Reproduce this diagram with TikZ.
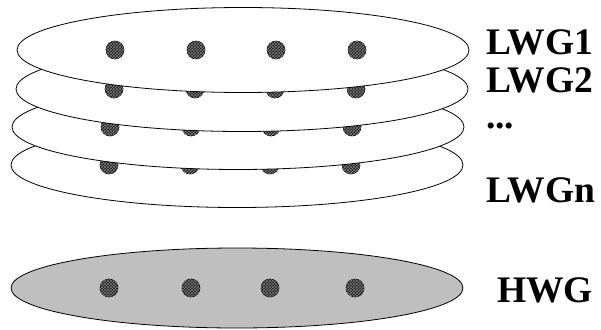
\documentclass[tikz,border=0pt]{standalone}
\usepackage{fontspec}
\setmainfont{Liberation Serif}
\usetikzlibrary{positioning,shapes.geometric,patterns}

\begin{document}
\begin{tikzpicture}[
                x=1pt, y=-1pt,
                layer/.style={
                    ellipse,
                    draw,
                    line width=0.8pt,
                    fill=white,
                    minimum width=452pt,
                    minimum height=85pt,
                    inner sep=0pt
                },
                heavy/.style={layer, fill=black!25, minimum height=80pt},
                member/.style={
                    circle,
                    draw=black,
                    line width=0.6pt,
                    fill=black!90,
                    minimum size=18pt,
                    inner sep=0pt,
                    postaction={pattern=crosshatch, pattern color=black!50}
                },
                tag/.style={anchor=west, inner sep=0pt, font=\bfseries\fontsize{37.5}{38}\selectfont}
            ]
                \useasboundingbox (0,0) rectangle (601,329);

                % stack of light-weight groups, bottom one first
                \foreach \i/\cx/\cy in {4/237/165, 3/238/127, 2/242/89, 1/243/50} {
                    \node[layer] (lwg\i) at (\cx,\cy) {};
                    \foreach \j/\dx in {1/-128, 2/-47, 3/33, 4/114}
                        \node[member] (m\i\j) at ([xshift=\dx pt]lwg\i.center) {};
                }

                % heavy-weight group
                \node[heavy] (hwg) at (237,288) {};
                \foreach \j/\dx in {1/-128, 2/-46, 3/33, 4/118}
                    \node[member] (h\j) at ([xshift=\dx pt]hwg.center) {};

                \node[tag] (t1) at (486,42) {LWG1};
                \node[tag] (t2) at (486,80) {LWG2};
                \node[tag] (tdots) at (486,126) {...};
                \node[tag] (tn) at (486,190) {LWGn};
                \node[tag] (th) at (497,290) {HWG};
            \end{tikzpicture}
\end{document}
